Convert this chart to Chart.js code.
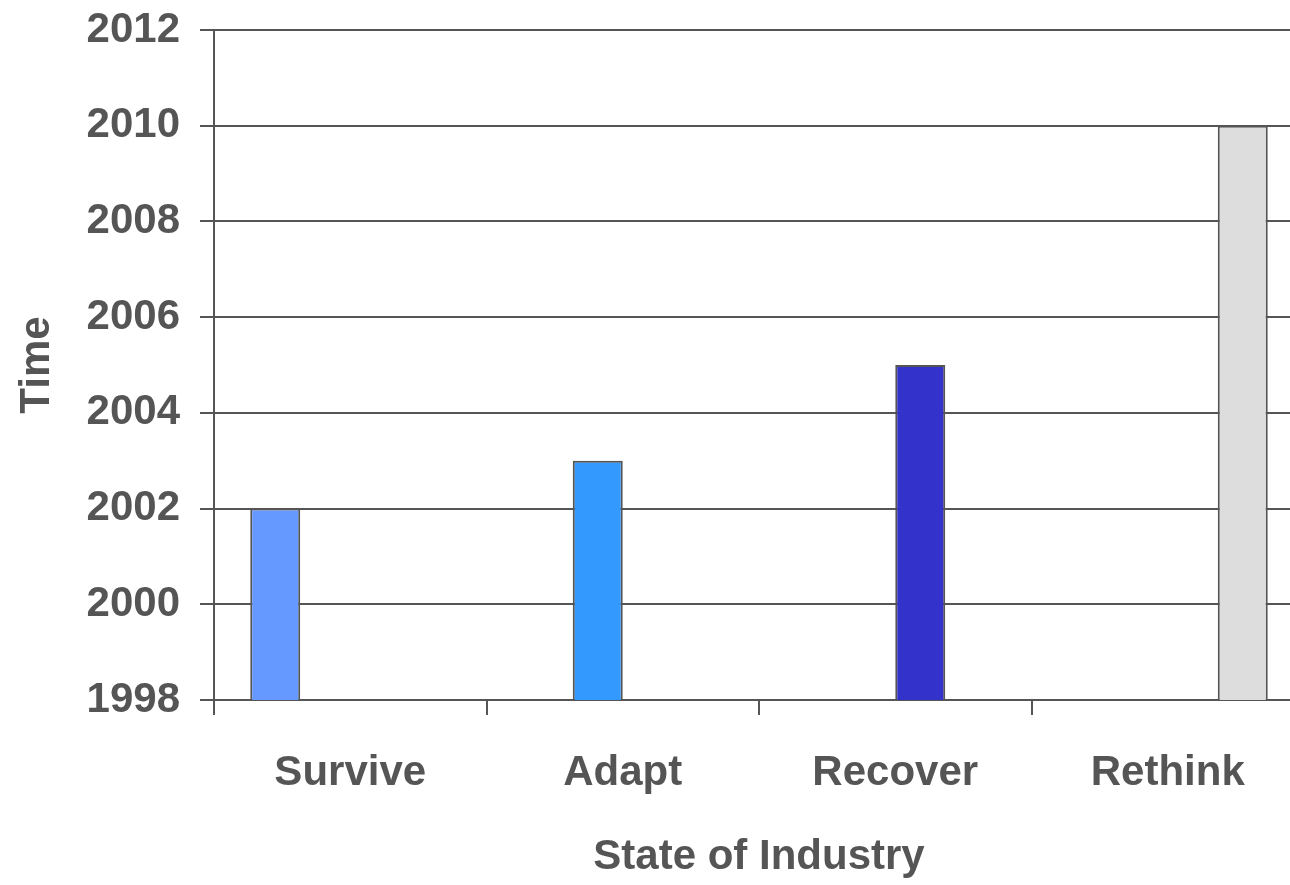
<!DOCTYPE html>
<html>
<head>
<meta charset="utf-8">
<script src="https://cdn.jsdelivr.net/npm/chart.js@4"></script>
<style>
  html, body { margin: 0; padding: 0; background: #fff; overflow: hidden; }
  #wrap { width: 1290px; height: 885px; overflow: hidden; position: relative; }
  #chart { position: absolute; left: 0; top: 0; }
</style>
</head>
<body>
<div id="wrap"><canvas id="chart" width="1304" height="885"></canvas></div>
<script>
// --- données ---
const categories = ['Survive', 'Adapt', 'Recover', 'Rethink'];
const years = [2002, 2003, 2005, 2010];
const yTicks = [1998, 2000, 2002, 2004, 2006, 2008, 2010, 2012];

const barColors = ['#6699ff', '#3399ff', '#3333cc', '#dddddd'];
const ink = '#555555';
const font = { family: '"Liberation Sans", Arial, sans-serif', size: 42, weight: 'bold' };

// une série par catégorie (rendu "clustered" type Excel)
const datasets = categories.map((name, i) => ({
    label: name,
    data: categories.map((_, j) => (j === i ? years[i] : null)),
    backgroundColor: barColors[i],
    borderColor: ink,
    borderWidth: 2,
    categoryPercentage: 0.734,
    barPercentage: 1
}));

new Chart(document.getElementById('chart'), {
    type: 'bar',
    data: { labels: categories, datasets },
    options: {
        responsive: false,
        animation: false,
        layout: { padding: { top: 30, right: 0, bottom: 0, left: 0 } },
        plugins: { legend: { display: false }, tooltip: { enabled: false } },
        scales: {
            x: {
                offset: true,
                grid: { drawOnChartArea: false, color: ink, lineWidth: 2, tickLength: 15, offset: true },
                border: { color: ink, width: 2 },
                ticks: { color: ink, font, padding: 33 },
                title: { display: true, text: 'State of Industry', color: ink, font, padding: { top: 0, bottom: 2 } },
                afterFit: (scale) => { scale.height = 185; }
            },
            y: {
                min: yTicks[0],
                max: yTicks[yTicks.length - 1],
                afterBuildTicks: (scale) => { scale.ticks = yTicks.map(v => ({ value: v })); },
                grid: { color: ink, lineWidth: 2, tickLength: 14 },
                border: { color: ink, width: 2 },
                ticks: { color: ink, font, padding: 20, callback: (v) => String(v) },
                title: { display: true, text: 'Time', color: ink, font, padding: { top: 12, bottom: 0 } },
                afterFit: (scale) => {
                    scale.width = 214;
                    scale.paddingTop = 0;
                    scale.paddingBottom = 0;
                }
            }
        }
    }
});
</script>
</body>
</html>
